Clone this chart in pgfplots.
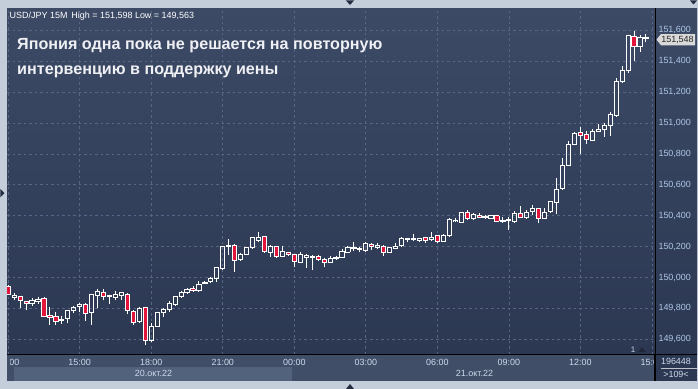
\documentclass[border=0pt]{standalone}
\usepackage{fontspec}
\setmainfont{Liberation Sans}
\usepackage{pgfplots}
\pgfplotsset{compat=1.18}
\usepackage{pgfplotstable}

\definecolor{outer}{RGB}{196,205,218}
\definecolor{bgtop}{RGB}{60,74,102}
\definecolor{bgbot}{RGB}{44,56,82}
\definecolor{gridc}{RGB}{86,102,132}
\definecolor{candred}{RGB}{226,22,58}
\definecolor{ylab}{RGB}{172,198,230}
\definecolor{xlab}{RGB}{205,216,234}
\definecolor{strip}{RGB}{64,78,104}
\definecolor{strip2}{RGB}{82,97,124}
\definecolor{tri}{RGB}{35,45,65}
\newcommand\fs[1]{\fontsize{#1}{#1}\selectfont}

\pgfplotstableread{
i O H L C
0 149.945 149.951 149.893 149.893
1 149.869 149.898 149.856 149.885
2 149.878 149.882 149.801 149.852
3 149.846 149.850 149.788 149.833
4 149.829 149.865 149.818 149.854
5 149.843 149.872 149.831 149.861
6 149.867 149.874 149.746 149.746
7 149.755 149.807 149.693 149.740
8 149.749 149.779 149.693 149.714
9 149.725 149.753 149.699 149.731
10 149.733 149.792 149.708 149.788
11 149.788 149.818 149.768 149.809
12 149.811 149.837 149.779 149.827
13 149.827 149.833 149.720 149.768
14 149.772 149.893 149.693 149.891
15 149.885 149.924 149.801 149.913
16 149.904 149.924 149.852 149.878
17 149.878 149.889 149.831 149.885
18 149.869 149.915 149.852 149.893
19 149.882 149.908 149.854 149.902
20 149.893 149.898 149.762 149.790
21 149.781 149.790 149.693 149.708
22 149.714 149.807 149.711 149.801
23 149.805 149.810 149.563 149.591
24 149.591 149.704 149.588 149.686
25 149.684 149.779 149.680 149.775
26 149.772 149.801 149.746 149.794
27 149.792 149.848 149.779 149.829
28 149.827 149.882 149.818 149.880
29 149.878 149.911 149.869 149.904
30 149.902 149.930 149.893 149.924
31 149.930 149.945 149.908 149.917
32 149.915 149.977 149.908 149.958
33 149.962 149.975 149.958 149.971
34 149.973 150.001 149.969 149.995
35 149.995 150.068 149.969 150.063
36 150.060 150.206 150.049 150.199
37 150.204 150.247 150.146 150.210
38 150.208 150.215 150.038 150.113
39 150.115 150.161 150.111 150.146
40 150.150 150.197 150.148 150.193
41 150.193 150.262 150.189 150.258
42 150.241 150.293 150.232 150.262
43 150.265 150.271 150.165 150.167
44 150.165 150.208 150.133 150.202
45 150.202 150.206 150.131 150.135
46 150.139 150.204 150.137 150.167
47 150.165 150.167 150.139 150.150
48 150.150 150.152 150.070 150.102
49 150.098 150.163 150.094 150.150
50 150.131 150.150 150.063 150.144
51 150.133 150.143 150.049 150.139
52 150.139 150.146 150.113 150.115
53 150.115 150.128 150.066 150.098
54 150.098 150.139 150.094 150.122
55 150.122 150.141 150.115 150.131
56 150.131 150.183 150.129 150.167
57 150.163 150.204 150.157 150.196
58 150.190 150.228 150.174 150.195
59 150.180 150.196 150.163 150.185
60 150.178 150.232 150.163 150.221
61 150.217 150.223 150.178 150.199
62 150.195 150.221 150.186 150.206
63 150.204 150.208 150.139 150.161
64 150.163 150.197 150.159 150.193
65 150.190 150.225 150.184 150.204
66 150.206 150.262 150.204 150.254
67 150.245 150.258 150.228 150.250
68 150.245 150.284 150.236 150.250
69 150.243 150.258 150.228 150.254
70 150.256 150.260 150.221 150.241
71 150.245 150.293 150.239 150.258
72 150.269 150.273 150.230 150.232
73 150.236 150.280 150.232 150.273
74 150.271 150.383 150.267 150.377
75 150.366 150.383 150.359 150.372
76 150.357 150.426 150.355 150.422
77 150.419 150.437 150.379 150.381
78 150.381 150.419 150.379 150.405
79 150.403 150.416 150.383 150.390
80 150.390 150.407 150.381 150.398
81 150.383 150.405 150.379 150.403
82 150.400 150.403 150.361 150.364
83 150.362 150.390 150.357 150.372
84 150.368 150.390 150.307 150.377
85 150.360 150.432 150.355 150.416
86 150.412 150.463 150.385 150.390
87 150.388 150.437 150.381 150.424
88 150.426 150.467 150.405 150.448
89 150.448 150.452 150.355 150.381
90 150.383 150.450 150.379 150.424
91 150.426 150.493 150.422 150.489
92 150.485 150.642 150.409 150.571
93 150.575 150.773 150.571 150.726
94 150.726 150.883 150.722 150.864
95 150.864 150.942 150.856 150.933
96 150.940 150.974 150.796 150.920
97 150.927 150.950 150.862 150.894
98 150.890 150.959 150.881 150.944
99 150.946 150.994 150.942 150.955
100 150.957 150.998 150.911 150.982
101 150.982 151.069 150.916 151.052
102 151.048 151.289 151.041 151.267
103 151.267 151.369 151.262 151.343
104 151.343 151.572 151.326 151.568
105 151.563 151.598 151.401 151.494
106 151.496 151.570 151.461 151.552
107 151.556 151.575 151.526 151.548
}\ohlc

\begin{document}
\begin{tikzpicture}
\begin{scope}[x=1bp,y=-1bp]
  \fill[outer] (0,0) rectangle (698,389);
  \shade[top color=bgtop, bottom color=bgbot] (7,8) rectangle (697,354);
  \fill[strip] (7,354) rectangle (655,381);
  \fill[strip2] (14,367) rectangle (292,381);
\end{scope}

\begin{axis}[
  at={(7bp,-354bp)}, anchor=south west,
  scale only axis, width=648bp, height=346bp,
  xmin=-0.2, xmax=108.52, ymin=149.505, ymax=151.744,
  axis line style={draw=none},
  major tick length=0pt,
  xtick={0,12,24,36,48,60,72,84,96,108},
  xticklabels={12:00,15:00,18:00,21:00,00:00,03:00,06:00,09:00,12:00,15:00},
  ytick={149.6,149.8,150,150.2,150.4,150.6,150.8,151,151.2,151.4,151.6},
  yticklabel pos=right,
  /pgf/number format/assume math mode=true,
  yticklabel style={/pgf/number format/.cd, fixed, fixed zerofill, precision=3, use comma, 1000 sep={}, /tikz/.cd, font=\fs{9}, text=ylab},
  xticklabel style={font=\fs{9}, text=xlab, yshift=-1.5bp},
  grid=major,
  major grid style={gridc, dash pattern=on 2.5bp off 3bp, line width=0.7bp},
  wick/.style={draw=none, mark=none, error bars/error mark=none,
      error bars/error bar style={draw=white, line width=0.9bp, solid}},
]
% red fill of falling candles
\addplot[draw=none, mark=none,
  restrict expr to domain={\thisrow{O}-\thisrow{C}}{0.0005:10},
  error bars/.cd, y dir=both, y explicit, error mark=none,
  error bar style={draw=candred, line width=4.2bp, solid}]
  table[x=i, y expr={(\thisrow{O}+\thisrow{C})/2}, y error expr={abs(\thisrow{C}-\thisrow{O})/2}] {\ohlc};
% lower wick
\addplot[wick, error bars/.cd, y dir=plus, y explicit]
  table[x=i, y=L, y error plus expr={min(\thisrow{O},\thisrow{C})-\thisrow{L}}] {\ohlc};
% upper wick
\addplot[wick, error bars/.cd, y dir=minus, y explicit]
  table[x=i, y=H, y error minus expr={\thisrow{H}-max(\thisrow{O},\thisrow{C})}] {\ohlc};
% body caps at open and close
\addplot[wick, error bars/.cd, x dir=both, x fixed=0.425]
  table[x=i, y=O] {\ohlc};
\addplot[wick, error bars/.cd, x dir=both, x fixed=0.425]
  table[x=i, y=C] {\ohlc};
% body sides
\addplot[wick, error bars/.cd, y dir=both, y explicit]
  table[x expr={\thisrow{i}-0.35}, y expr={(\thisrow{O}+\thisrow{C})/2}, y error expr={abs(\thisrow{C}-\thisrow{O})/2}] {\ohlc};
\addplot[wick, error bars/.cd, y dir=both, y explicit]
  table[x expr={\thisrow{i}+0.35}, y expr={(\thisrow{O}+\thisrow{C})/2}, y error expr={abs(\thisrow{C}-\thisrow{O})/2}] {\ohlc};
\end{axis}

\begin{scope}[x=1bp,y=-1bp]
  \fill[outer] (0,354) rectangle (7,381);
  \fill[strip] (7,355) rectangle (9.6,366.5);
  \fill[bgbot] (654.2,354.5) rectangle (697,381);
  \draw[black, line width=0.9bp] (7,354.3) -- (697,354.3);
  \draw[black, line width=0.9bp] (655,8) -- (655,381);
  \draw[black, line width=0.6bp] (653.8,355) -- (653.8,381);
  \draw[white!70!bgbot, line width=0.5bp] (661,368.3) -- (697,368.3);
  \node[font=\fs{9}, text=xlab, inner sep=0] at (676,361.5) {196448};
  \node[font=\fs{9}, text=xlab, inner sep=0] at (676,374.5) {>109<};
  \node[font=\fs{9}, text=xlab, inner sep=0] at (153.5,373.8) {20.окт.22};
  \node[font=\fs{9}, text=xlab, inner sep=0] at (474.5,373.8) {21.окт.22};
  \node[font=\fs{8}, text=xlab, inner sep=0] at (633,349.5) {1};
  \fill[bgbot!70!black] (638,352) -- (646,352) -- (642,347.5) -- cycle;
  \fill[gray!30!white] (656.5,39.6) -- (661,34) -- (695,34) -- (695,45.3) -- (661,45.3) -- cycle;
  \node[font=\fs{9}, text=black!85, inner sep=0] at (677.5,39.7) {151,548};
  \node[font=\fs{9}, text=white, anchor=base west, inner sep=0] at (9.5,18.5) {USD/JPY 15M\, High = 151,598 Low = 149,563};
  \node[font=\fs{16.2}\bfseries, text=white!92!bgtop, anchor=base west, inner sep=0] at (17,49) {Япония одна пока не решается на повторную};
  \node[font=\fs{16.2}\bfseries, text=white!92!bgtop, anchor=base west, inner sep=0] at (17,74) {интервенцию в поддержку иены};
  \fill[tri] (346,0.5) -- (354,0.5) -- (350,5) -- cycle;
  \fill[tri] (690,0.5) -- (697,0.5) -- (693.5,4.5) -- cycle;
  \fill[tri] (346,389) -- (354,389) -- (350,384) -- cycle;
  \fill[tri] (0.5,189) -- (0.5,197) -- (4.5,193) -- cycle;
\end{scope}
\pgfresetboundingbox
\useasboundingbox (0,0) rectangle (698bp,-389bp);
\end{tikzpicture}
\end{document}
